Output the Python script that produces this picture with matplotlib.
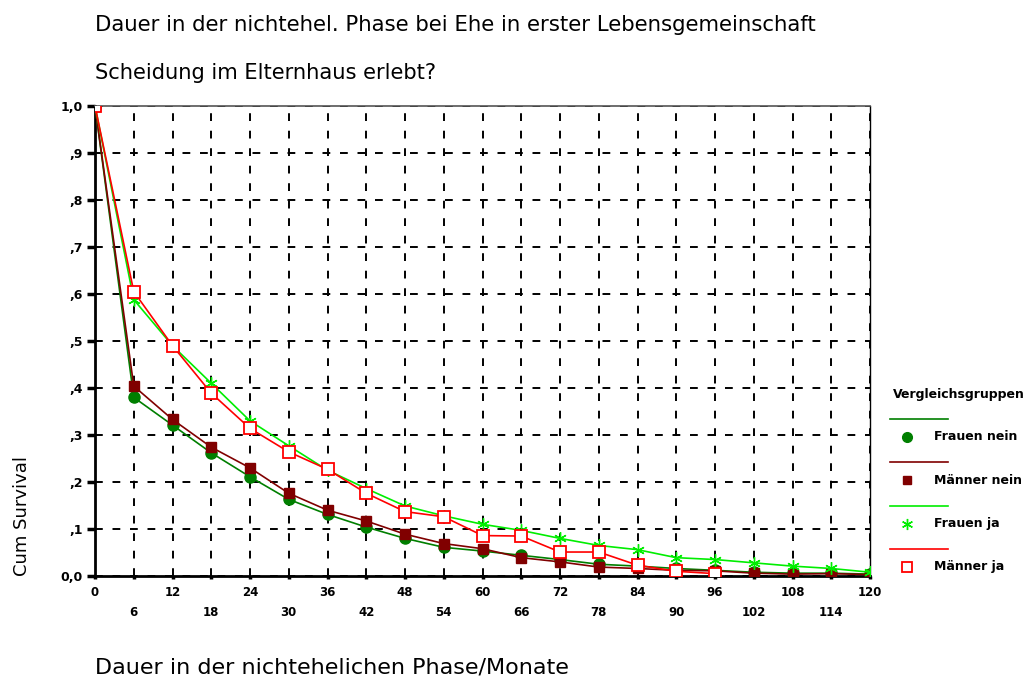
import matplotlib.pyplot as plt
from matplotlib.lines import Line2D

# Months (x positions of the survival estimates)
months = [0, 6, 12, 18, 24, 30, 36, 42, 48, 54, 60, 66, 72, 78, 84, 90, 96, 102, 108, 114, 120]
months_maenner_ja = months[:17]

# Cum survival per group
frauen_nein = [1.0, 0.380, 0.321, 0.262, 0.211, 0.163, 0.131, 0.104, 0.080, 0.061, 0.053,
               0.044, 0.035, 0.025, 0.021, 0.016, 0.012, 0.008, 0.006, 0.006, 0.004]
maenner_nein = [1.0, 0.404, 0.333, 0.274, 0.230, 0.176, 0.140, 0.117, 0.089, 0.069, 0.058,
                0.039, 0.030, 0.019, 0.016, 0.012, 0.011, 0.006, 0.004, 0.005, 0.003]
frauen_ja = [1.0, 0.588, 0.490, 0.410, 0.330, 0.277, 0.225, 0.186, 0.149, 0.128, 0.110,
             0.097, 0.080, 0.065, 0.056, 0.039, 0.035, 0.028, 0.021, 0.016, 0.008]
maenner_ja = [1.0, 0.605, 0.490, 0.389, 0.314, 0.264, 0.227, 0.176, 0.137, 0.126, 0.086,
              0.085, 0.051, 0.051, 0.023, 0.010, 0.005]

group_names = ['Frauen nein', 'Männer nein', 'Frauen ja', 'Männer ja']

x_ticks = list(range(0, 121, 6))
y_ticks = [i / 10 for i in range(11)]
y_labels = ['0,0', ',1', ',2', ',3', ',4', ',5', ',6', ',7', ',8', ',9', '1,0']

plt.rcParams['font.family'] = ['DejaVu Sans']

fig = plt.figure(figsize=(10.34, 6.79), dpi=100)
ax = fig.add_axes([0.0919, 0.1517, 0.7495, 0.6922])

styles = [
    dict(color='#007f00', marker='o', markersize=8, mfc='#007f00', mec='#007f00'),
    dict(color='#800000', marker='s', markersize=7, mfc='#800000', mec='#800000'),
    dict(color='#00ee00', marker=(6, 2, 0), markersize=9, mfc='none', mec='#00ee00'),
    dict(color='#ff0000', marker='s', markersize=8, mfc='white', mec='#ff0000', mew=1.3),
]
series = [(months, frauen_nein), (months, maenner_nein), (months, frauen_ja), (months_maenner_ja, maenner_ja)]
for (xs, ys), st, name in zip(series, styles, group_names):
    ax.plot(xs, ys, linewidth=1.2, label=name, zorder=3, **st)

ax.set_xlim(0, 120)
ax.set_ylim(0, 1.0)
ax.set_xticks(x_ticks)
ax.set_yticks(y_ticks)
ax.set_yticklabels(y_labels, fontsize=9, fontweight='bold')
ax.set_xticklabels([str(m) if i % 2 == 0 else '\n' + str(m) for i, m in enumerate(x_ticks)],
                   fontsize=8.5, fontweight='bold', linespacing=1.75)
ax.tick_params(axis='y', direction='out', length=6, width=2.5, pad=3)
ax.tick_params(axis='x', direction='out', length=2, width=2.5, pad=5)

ax.grid(True, color='black', linestyle=(0, (4, 5)), linewidth=1.4, zorder=1)
ax.spines['left'].set_linewidth(2)
ax.spines['bottom'].set_linewidth(2)
ax.spines['top'].set_linewidth(1.2)
ax.spines['top'].set_color('#555555')
ax.spines['right'].set_linewidth(1)

fig.text(0.0919, 0.963, 'Dauer in der nichtehel. Phase bei Ehe in erster Lebensgemeinschaft',
         fontsize=15.3, va='center')
fig.text(0.0919, 0.893, 'Scheidung im Elternhaus erlebt?', fontsize=15.1, va='center')
fig.text(0.0919, 0.017, 'Dauer in der nichtehelichen Phase/Monate', fontsize=16, va='center')
fig.text(0.021, 0.24, 'Cum Survival', fontsize=13, rotation=90, ha='center', va='center')

# Legend drawn by hand, line above each marker
fig.text(0.8636, 0.4183, 'Vergleichsgruppen', fontsize=9, fontweight='bold', va='center')
for i, (st, name) in enumerate(zip(styles, group_names)):
    y_line = 1 - (419 + 43.3 * i) / 679
    y_mark = y_line - 18 / 679
    fig.add_artist(Line2D([0.861, 0.917], [y_line, y_line], transform=fig.transFigure,
                          color=st['color'], linewidth=1.2))
    fig.add_artist(Line2D([0.877], [y_mark], transform=fig.transFigure, linestyle='none',
                          marker=st['marker'], markersize=st['markersize'] - 1,
                          mfc=st['mfc'], mec=st['mec'], mew=st.get('mew', 1.0)))
    fig.text(0.903, y_mark, name, fontsize=9, fontweight='bold', va='center')

plt.savefig('out.png', dpi=100)
